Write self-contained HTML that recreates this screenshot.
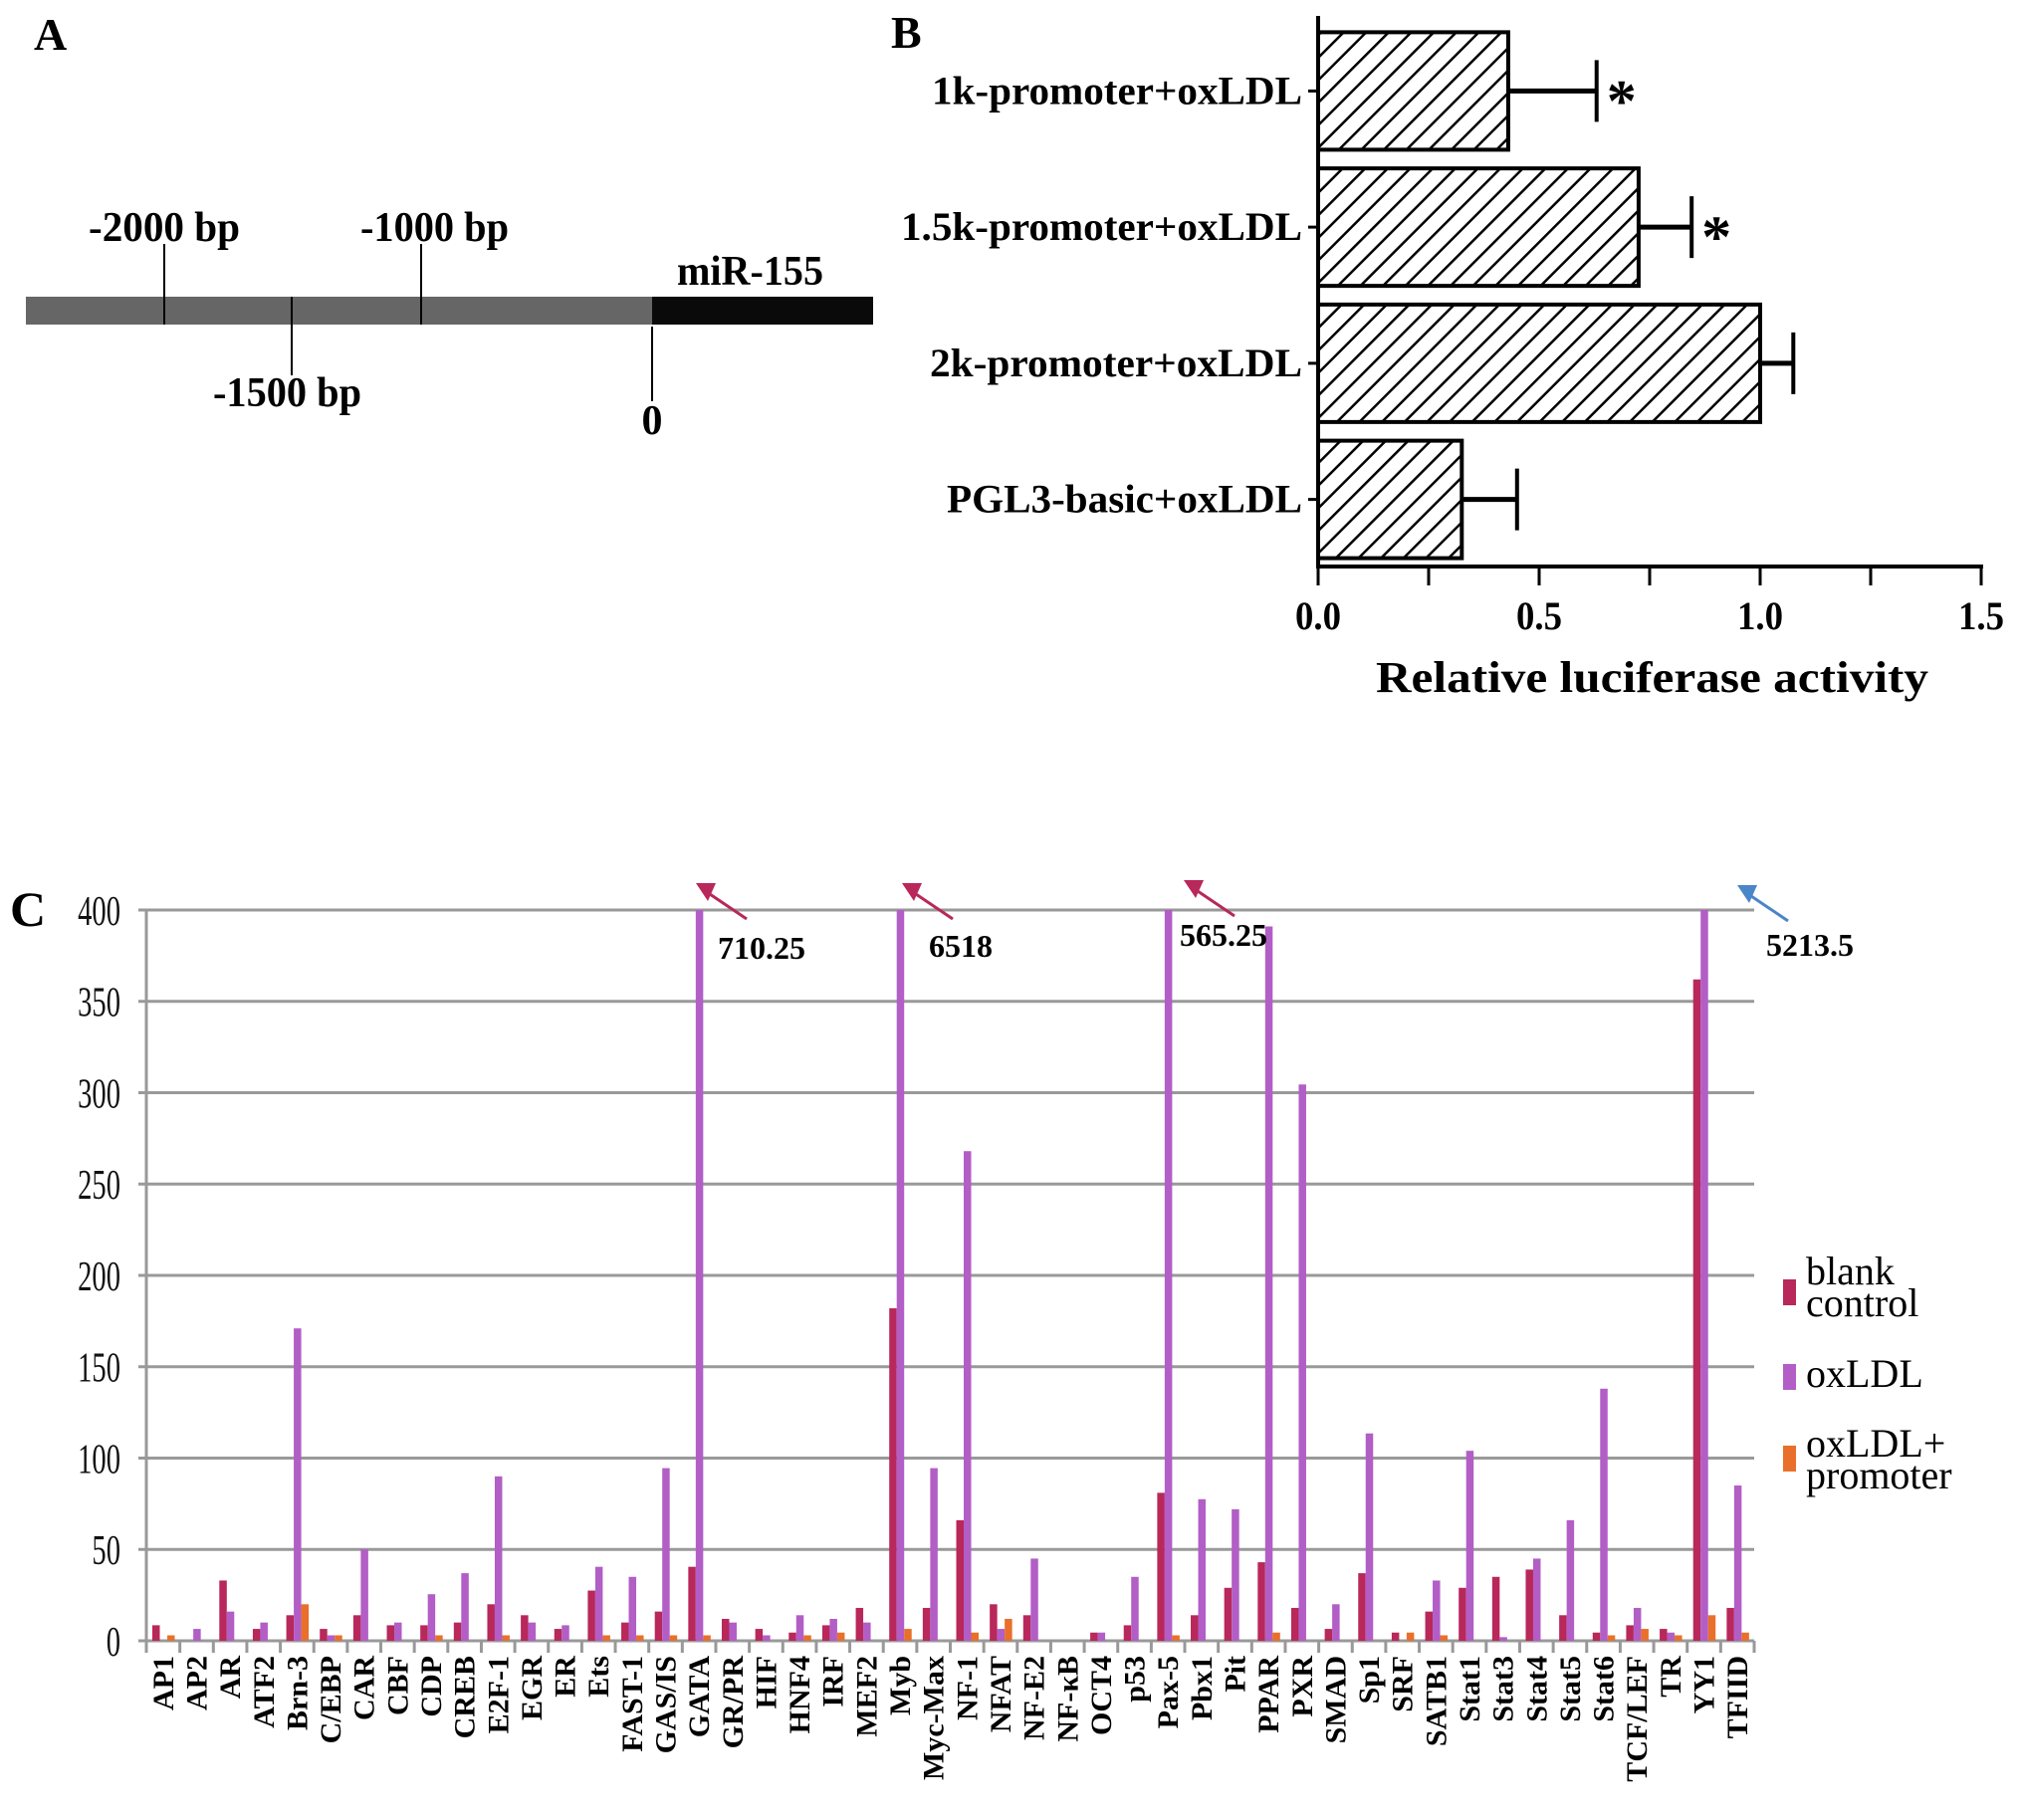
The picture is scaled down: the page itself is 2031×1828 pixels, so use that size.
<!DOCTYPE html>
<html><head><meta charset="utf-8"><style>
html,body{margin:0;padding:0;background:#fff;}
svg{display:block;}
text{font-family:"Liberation Serif",serif;}
</style></head><body>
<svg id="fig" width="2031" height="1828" viewBox="0 0 2031 1828" xmlns="http://www.w3.org/2000/svg">
<defs>
<pattern id="hatch" patternUnits="userSpaceOnUse" width="16" height="16" patternTransform="rotate(45)">
<rect width="16" height="16" fill="#fff"/>
<line x1="0" y1="0" x2="0" y2="16" stroke="#000" stroke-width="5"/>
</pattern>
</defs>

<!-- Panel A -->
<g>
<text x="34" y="50" font-size="46" font-weight="bold">A</text>
<rect x="26" y="298" width="629" height="28" fill="#666"/>
<rect x="655" y="298" width="222" height="28" fill="#0a0a0a"/>
<line x1="165" y1="245" x2="165" y2="326" stroke="#000" stroke-width="2"/>
<line x1="423" y1="245" x2="423" y2="326" stroke="#000" stroke-width="2"/>
<line x1="293" y1="298" x2="293" y2="377" stroke="#000" stroke-width="2"/>
<line x1="655" y1="328" x2="655" y2="403" stroke="#000" stroke-width="2"/>
<text x="89" y="242" font-size="42" font-weight="bold" textLength="152" lengthAdjust="spacingAndGlyphs">-2000 bp</text>
<text x="362" y="242" font-size="42" font-weight="bold" textLength="149" lengthAdjust="spacingAndGlyphs">-1000 bp</text>
<text x="214" y="408" font-size="42" font-weight="bold" textLength="149" lengthAdjust="spacingAndGlyphs">-1500 bp</text>
<text x="655" y="436" font-size="42" font-weight="bold" text-anchor="middle">0</text>
<text x="680" y="286" font-size="42" font-weight="bold" textLength="147" lengthAdjust="spacingAndGlyphs">miR-155</text>
</g>

<!-- Panel B -->
<g id="panelB">
<text x="895" y="48" font-size="46" font-weight="bold">B</text>
</g>

<!-- Panel C -->
<g id="panelC">
<text x="10" y="930" font-size="50" font-weight="bold">C</text>
</g>
</svg>
<script>
// ---------- Panel B data ----------
const bCategories = ["1k-promoter+oxLDL","1.5k-promoter+oxLDL","2k-promoter+oxLDL","PGL3-basic+oxLDL"];
const bValues = [0.43, 0.725, 1.0, 0.325];
const bErrors = [0.20, 0.12, 0.075, 0.125];
const bSignif = [true, true, false, false];
const bTicks = [0, 0.5, 1.0, 1.5];
const bTickLabels = ["0.0","0.5","1.0","1.5"];
const bLabelLens = [372, 403, 374, 357];

// ---------- Panel C data ----------
const cCategories = ["AP1","AP2","AR","ATF2","Brn-3","C/EBP","CAR","CBF","CDP","CREB","E2F-1","EGR","ER","Ets","FAST-1","GAS/IS","GATA","GR/PR","HIF","HNF4","IRF","MEF2","Myb","Myc-Max","NF-1","NFAT","NF-E2","NF-\u03baB","OCT4","p53","Pax-5","Pbx1","Pit","PPAR","PXR","SMAD","Sp1","SRF","SATB1","Stat1","Stat3","Stat4","Stat5","Stat6","TCF/LEF","TR","YY1","TFIID"];
const cBlank = [8.5,0,33,6.5,14,6.5,14,8.5,8.5,10,20,14,6.5,27.5,10,16,40.5,12,6.5,4.5,8.5,18,182,18,66,20,14,0,4.5,8.5,81,14,29,43,18,6.5,37,4.5,16,29,35,39,14,4.5,8.5,6.5,362,18];
const cOxLDL = [0,6.5,16,10,171,3,50,10,25.5,37,90,10,8.5,40.5,35,94.5,710.25,10,3,14,12,10,6518,94.5,268,6.5,45,0,4.5,35,565.25,77.5,72,391,304.5,20,113.5,0,33,104,2,45,66,138,18,4.5,5213.5,85];
const cPromoter = [3,0,0,0,20,3,0,0,3,0,3,0,0,3,3,3,3,0,0,3,4.5,0,6.5,0,4.5,12,0,0,0,0,3,0,0,4.5,0,0,0,4.5,3,0,0,0,0,3,6.5,3,14,4.5];
const cYTicks = [0,50,100,150,200,250,300,350,400];
const cYMax = 400;
const cSeriesNames = ["blank control","oxLDL","oxLDL+ promoter"];

const NS = "http://www.w3.org/2000/svg";
function mk(tag, attrs, parent){
  const e = document.createElementNS(NS, tag);
  for (const k in attrs) e.setAttribute(k, attrs[k]);
  parent.appendChild(e);
  return e;
}

// ---- Panel B drawing ----
(function(){
  const g = document.getElementById('panelB');
  const x0 = 1324, x1 = 1990, yTop = 16, yAxis = 569;
  const xs = v => x0 + (v - bTicks[0]) / (bTicks[bTicks.length-1] - bTicks[0]) * (x1 - x0);
  const band = (yAxis - 22) / bCategories.length;
  const barH = 118;
  bCategories.forEach((c, i) => {
    const cy = 22 + band * i + band / 2 + 1;
    const bar = mk('rect', {x: x0, y: cy - barH/2, width: xs(bValues[i]) - x0, height: barH, fill: 'url(#hatch)', stroke: '#000', 'stroke-width': 4}, g);
    
    
    const ex = xs(bValues[i] + bErrors[i]);
    const el = mk('line', {x1: xs(bValues[i]), y1: cy, x2: ex, y2: cy, stroke: '#000', 'stroke-width': 5}, g);
    
    
    const ec = mk('line', {x1: ex, y1: cy - 31, x2: ex, y2: cy + 31, stroke: '#000', 'stroke-width': 4}, g);
    
    
    if (bSignif[i]) {
      const s = mk('text', {x: ex + 10, y: cy + 30, 'font-size': 60, 'font-weight': 'bold'}, g);
      s.textContent = '*';
      
      
    }
    const tk = mk('line', {x1: x0 - 10, y1: cy, x2: x0, y2: cy, stroke: '#000', 'stroke-width': 3}, g);
    
    
    const lab = mk('text', {x: x0 - 16 - bLabelLens[i], y: cy + 13, 'font-size': 40, 'font-weight': 'bold', textLength: bLabelLens[i], lengthAdjust: 'spacingAndGlyphs'}, g);
    lab.textContent = c;
    
    
  });
  const ya = mk('line', {x1: x0, y1: yTop, x2: x0, y2: yAxis + 1, stroke: '#000', 'stroke-width': 4}, g);
  
  
  const xa = mk('line', {x1: x0 - 2, y1: yAxis, x2: x1 + 2, y2: yAxis, stroke: '#000', 'stroke-width': 4}, g);
  
  
  for (let v = 0; v <= 1.5001; v += 0.25) {
    const t = mk('line', {x1: xs(v), y1: yAxis, x2: xs(v), y2: yAxis + 19, stroke: '#000', 'stroke-width': 3}, g);
    
    
  }
  bTicks.forEach((v, i) => {
    const t = mk('text', {x: xs(v), y: 632, 'font-size': 40, 'font-weight': 'bold', 'text-anchor': 'middle', 'font-family': '"Liberation Sans", sans-serif', textLength: 46, lengthAdjust: 'spacingAndGlyphs'}, g);
    t.textContent = bTickLabels[i];
    
    
  });
  const title = mk('text', {x: 1382, y: 695, 'font-size': 44, 'font-weight': 'bold', textLength: 555, lengthAdjust: 'spacingAndGlyphs'}, g);
  title.textContent = 'Relative luciferase activity';
  
  
})();

// ---- Panel C drawing ----
(function(){
  const g = document.getElementById('panelC');
  const xL = 147, xR = 1762, y0 = 1648, yT = 914;
  const ys = v => y0 - Math.min(v, cYMax) / cYMax * (y0 - yT);
  const bw = (xR - xL) / cCategories.length;
  const xc = i => xL + bw * i;
  cYTicks.forEach(v => {
    const l = mk('line', {x1: xL - 8, y1: ys(v), x2: xR, y2: ys(v), stroke: '#999', 'stroke-width': 3}, g);
    
    
    const t = mk('text', {x: 121, y: ys(v) + 15, 'font-size': 42, 'text-anchor': 'end', 'font-family': '"Liberation Sans", sans-serif', fill: '#111', transform: 'translate(121 0) scale(0.68 1) translate(-121 0)'}, g);
    t.textContent = v;
    
    
  });
  const ya = mk('line', {x1: xL, y1: yT, x2: xL, y2: y0 + 12, stroke: '#999', 'stroke-width': 3}, g);
  
  
  for (let i = 0; i <= cCategories.length; i++) {
    const t = mk('line', {x1: xc(i), y1: y0, x2: xc(i), y2: y0 + 12, stroke: '#999', 'stroke-width': 3}, g);
    
    
  }
  const colors = ['#b8285a', '#b25ec6', '#e8702a'];
  const series = [cBlank, cOxLDL, cPromoter];
  const offs = [6, 13.5, 21];
  cCategories.forEach((c, i) => {
    series.forEach((s, k) => {
      const v = s[i];
      if (v > 0) {
        const r = mk('rect', {x: xc(i) + offs[k], y: ys(v), width: 7.5, height: y0 - ys(v), fill: colors[k]}, g);
        
        
      }
    });
    const cx = xc(i) + bw / 2 + 10;
    const lab = mk('text', {x: cx, y: 1663, 'font-size': 30, 'font-weight': 'bold', 'text-anchor': 'end', transform: 'rotate(-90 ' + cx + ' 1663)'}, g);
    lab.textContent = c;
    
    
  });
  // annotations for truncated bars
  const annot = [[16, '710.25', '#b8285a', 721, 963], [22, '6518', '#b8285a', 933, 961], [30, '565.25', '#b8285a', 1185, 950], [46, '5213.5', '#4a86c8', 1774, 960]];
  const tri = [[710, 896], [917, 896], [1200, 893], [1756, 898]];
  annot.forEach((a, j) => {
    const [tx, ty] = tri[j];
    const ln = mk('line', {x1: tx, y1: ty, x2: tx + 40, y2: ty + 27, stroke: a[2], 'stroke-width': 3}, g);
    
    
    const p = mk('polygon', {points: (tx - 11) + ',' + (ty - 9) + ' ' + (tx + 9) + ',' + (ty - 9) + ' ' + (tx + 1) + ',' + (ty + 9), fill: a[2]}, g);
    
    
    const t = mk('text', {x: a[3], y: a[4], 'font-size': 32, 'font-weight': 'bold'}, g);
    t.textContent = cOxLDL[a[0]];
    
    
  });
  // legend
  const leg = [[1285, ['blank', 'control'], 1290], [1370, ['oxLDL'], 1393], [1452, ['oxLDL+', 'promoter'], 1463]];
  leg.forEach((L, k) => {
    const r = mk('rect', {x: 1791, y: L[0], width: 13, height: 26, fill: colors[k]}, g);
    
    
    L[1].forEach((w, j) => {
      const t = mk('text', {x: 1814, y: L[2] + j * 32, 'font-size': 40}, g);
      t.textContent = w;
      
      
    });
  });
})();
</script>
</body></html>
